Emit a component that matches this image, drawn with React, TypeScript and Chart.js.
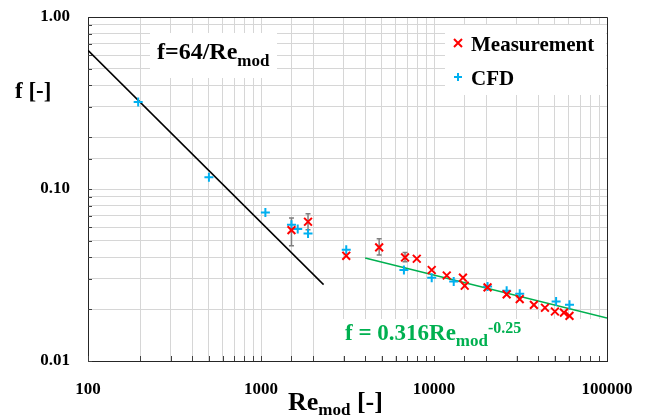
import { useEffect, useRef } from "react";
import { Chart, registerables } from "chart.js";

Chart.register(...registerables);

const FONT = '"Liberation Serif", "Times New Roman", serif';

// Measurement (red ×)
const measRe = [1500, 1870, 3110, 4820, 6800, 7950, 9700, 11850, 14700, 15050, 20400, 26300, 31300, 37800, 43800, 50000, 56400, 60700];
const measF = [0.0577, 0.0645, 0.0409, 0.0458, 0.04, 0.0393, 0.0338, 0.0314, 0.0305, 0.0274, 0.0268, 0.0244, 0.0229, 0.0212, 0.0204, 0.0194, 0.0191, 0.0183];
const measErrHigh = [0.0679, 0.0717, null, 0.0513, 0.0427, null, null, null, null, null, null, null, null, null, null, null, null, null];
const measErrLow = [0.0468, 0.058, null, 0.0414, 0.0378, null, null, null, null, null, null, null, null, null, null, null, null, null];

// CFD (blue +)
const cfdRe = [195, 500, 1060, 1500, 1630, 1870, 3110, 6700, 9700, 13000, 20400, 26300, 31300, 50800, 60700];
const cfdF = [0.32, 0.117, 0.073, 0.062, 0.0585, 0.0551, 0.0443, 0.0338, 0.0305, 0.029, 0.0271, 0.0256, 0.0246, 0.0222, 0.0212];

// Laminar line f = 64/Re
const laminarRe = [100, 2300];
const laminarF = [0.64, 0.0278];
// Turbulent line f = 0.316 Re^-0.25
const turbRe = [4000, 100000];
const turbF = [0.0397, 0.01777];

const xTickLabels = [100, 1000, 10000, 100000];
const yTickLabels = ["0.01", "0.10", "1.00"];

const RED = "#ff0000";
const BLUE = "#00b0f0";
const GREEN = "#00b050";

type Part = { text: string; size: number; dy?: number };
function drawParts(ctx: CanvasRenderingContext2D, x: number, base: number, parts: Part[]) {
  let cx = x;
  for (const p of parts) {
    ctx.font = `bold ${p.size}px ${FONT}`;
    ctx.fillText(p.text, cx, base + (p.dy || 0));
    cx += ctx.measureText(p.text).width;
  }
}

const decor = {
  id: "decor",
  beforeDatasetsDraw(chart: any) {
    const { ctx, chartArea: a, scales } = chart;
    const xs = scales.x;
    const ys = scales.y;
    ctx.save();
    // inner tick marks
    ctx.strokeStyle = "#404040";
    ctx.lineWidth = 1;
    ctx.beginPath();
    for (const t of xs.ticks) {
      const px = Math.round(xs.getPixelForValue(t.value)) + 0.5;
      ctx.moveTo(px, a.bottom);
      ctx.lineTo(px, a.bottom - 5);
    }
    for (const t of ys.ticks) {
      const py = Math.round(ys.getPixelForValue(t.value)) + 0.5;
      ctx.moveTo(a.left, py);
      ctx.lineTo(a.left + 4, py);
    }
    ctx.stroke();

    // white boxes
    ctx.fillStyle = "#ffffff";
    ctx.fillRect(150, 33, 127, 45);
    ctx.fillRect(445, 25, a.right - 445 - 1, 70);
    ctx.fillRect(340, 319, a.right - 340 - 1, a.bottom - 319 - 5);

    // formula texts
    ctx.textAlign = "left";
    ctx.textBaseline = "alphabetic";
    ctx.fillStyle = "#000000";
    drawParts(ctx, 157, 59, [
      { text: "f=64/Re", size: 24 },
      { text: "mod", size: 17, dy: 7 },
    ]);
    ctx.fillStyle = GREEN;
    drawParts(ctx, 345, 340, [
      { text: "f = 0.316Re", size: 23 },
      { text: "mod", size: 17, dy: 6 },
      { text: "-0.25", size: 16, dy: -7 },
    ]);

    // legend
    ctx.fillStyle = "#000000";
    ctx.font = `bold 21px ${FONT}`;
    ctx.fillText("Measurement", 471, 51);
    ctx.fillText("CFD", 471, 85);
    ctx.lineWidth = 2;
    ctx.strokeStyle = RED;
    ctx.beginPath();
    ctx.moveTo(454, 39); ctx.lineTo(462, 47);
    ctx.moveTo(462, 39); ctx.lineTo(454, 47);
    ctx.stroke();
    ctx.strokeStyle = BLUE;
    ctx.beginPath();
    ctx.moveTo(454, 77); ctx.lineTo(462, 77);
    ctx.moveTo(458, 73); ctx.lineTo(458, 81);
    ctx.stroke();

    // error bars
    ctx.strokeStyle = "#7f7f7f";
    ctx.lineWidth = 1.5;
    ctx.beginPath();
    measRe.forEach((re, i) => {
      const hi = measErrHigh[i];
      const lo = measErrLow[i];
      if (hi == null || lo == null) return;
      const px = xs.getPixelForValue(re);
      const pyH = ys.getPixelForValue(hi);
      const pyL = ys.getPixelForValue(lo);
      ctx.moveTo(px, pyH); ctx.lineTo(px, pyL);
      ctx.moveTo(px - 2.5, pyH); ctx.lineTo(px + 2.5, pyH);
      ctx.moveTo(px - 2.5, pyL); ctx.lineTo(px + 2.5, pyL);
    });
    ctx.stroke();
    ctx.restore();
  },
  afterDraw(chart: any) {
    const { ctx, chartArea: a } = chart;
    ctx.save();
    ctx.strokeStyle = "#262626";
    ctx.lineWidth = 1;
    ctx.beginPath();
    ctx.moveTo(Math.round(a.left) + 0.5, Math.round(a.top) + 0.5);
    ctx.lineTo(Math.round(a.right) + 0.5, Math.round(a.top) + 0.5);
    ctx.lineTo(Math.round(a.right) + 0.5, Math.round(a.bottom) + 0.5);
    ctx.stroke();
    // axis titles
    ctx.fillStyle = "#000000";
    ctx.textAlign = "left";
    ctx.textBaseline = "alphabetic";
    drawParts(ctx, 15, 98, [{ text: "f [-]", size: 23 }]);
    drawParts(ctx, 288, 410, [
      { text: "Re", size: 26 },
      { text: "mod", size: 17, dy: 5 },
      { text: " [-]", size: 26 },
    ]);
    ctx.restore();
  },
};

function isDecade(v: number) {
  const l = Math.log10(v);
  return Math.abs(l - Math.round(l)) < 1e-6;
}

export default function App() {
  const ref = useRef<HTMLCanvasElement | null>(null);
  useEffect(() => {
    if (!ref.current) return;
    const chart = new Chart(ref.current, {
      type: "scatter",
      data: {
        datasets: [
          {
            label: "Measurement",
            data: measRe.map((x, i) => ({ x, y: measF[i] })),
            pointStyle: "crossRot",
            radius: 5.5,
            borderColor: RED,
            backgroundColor: RED,
            borderWidth: 2,
            showLine: false,
          },
          {
            label: "CFD",
            data: cfdRe.map((x, i) => ({ x, y: cfdF[i] })),
            pointStyle: "cross",
            radius: 4.5,
            borderColor: BLUE,
            backgroundColor: BLUE,
            borderWidth: 2,
            showLine: false,
          },
          {
            label: "laminar",
            data: laminarRe.map((x, i) => ({ x, y: laminarF[i] })),
            showLine: true,
            borderColor: "#000000",
            borderWidth: 1.5,
            pointRadius: 0,
          },
          {
            label: "turbulent",
            data: turbRe.map((x, i) => ({ x, y: turbF[i] })),
            showLine: true,
            borderColor: GREEN,
            borderWidth: 1.5,
            pointRadius: 0,
          },
        ],
      },
      options: {
        responsive: false,
        animation: false,
        layout: { padding: { top: 17, right: 41, left: 0, bottom: 0 } },
        plugins: { legend: { display: false }, tooltip: { enabled: false } },
        scales: {
          x: {
            type: "logarithmic",
            min: 100,
            max: 100000,
            afterFit: (s: any) => {
              s.height = 56;
              s.paddingLeft = 0;
              s.paddingRight = 0;
            },
            grid: { color: "#d6d6d6", lineWidth: 1, drawTicks: false },
            border: { color: "#262626", width: 1 },
            ticks: {
              autoSkip: false,
              maxRotation: 0,
              padding: 18,
              color: "#000000",
              font: { family: FONT, size: 17, weight: "bold" },
              callback: (v: any) => {
                const n = Number(v);
                return xTickLabels.some((t) => Math.abs(t - n) < 1e-6 * t) ? String(Math.round(n)) : "";
              },
            },
          },
          y: {
            type: "logarithmic",
            min: 0.01,
            max: 1,
            afterFit: (s: any) => {
              s.width = 88;
              s.paddingTop = 0;
              s.paddingBottom = 0;
            },
            grid: { color: "#d6d6d6", lineWidth: 1, drawTicks: false },
            border: { color: "#262626", width: 1 },
            ticks: {
              autoSkip: false,
              padding: 18,
              color: "#000000",
              font: { family: FONT, size: 17, weight: "bold" },
              callback: (v: any) => {
                const n = Number(v);
                if (!isDecade(n)) return "";
                const idx = Math.round(Math.log10(n)) + 2;
                return yTickLabels[idx] ?? "";
              },
            },
          },
        },
      },
      plugins: [decor],
    } as any);
    return () => chart.destroy();
  }, []);
  return (
    <div style={{ position: "absolute", left: 0, top: 0, width: 648, height: 417 }}>
      <canvas ref={ref} width={648} height={417} style={{ display: "block" }} />
    </div>
  );
}
